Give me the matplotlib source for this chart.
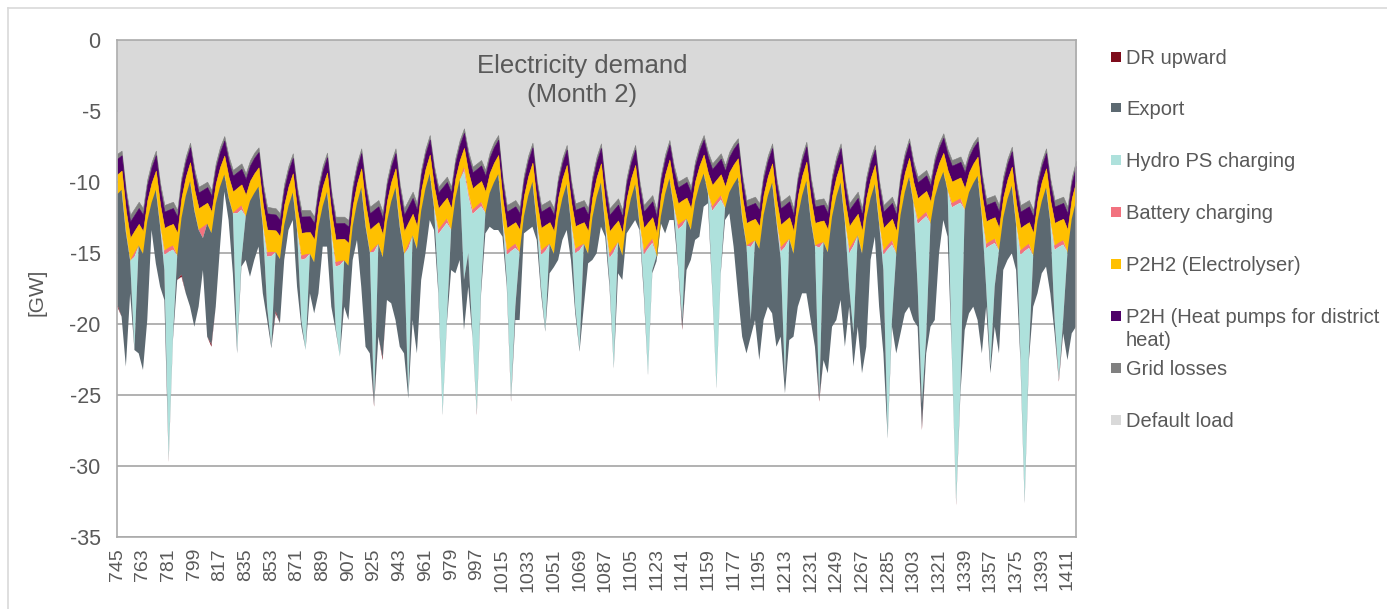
import numpy as np
import matplotlib
matplotlib.use("Agg")
import matplotlib.pyplot as plt
from matplotlib.patches import Rectangle
from matplotlib.lines import Line2D

plt.rcParams['font.family'] = ['Liberation Sans', 'DejaVu Sans']

# Hour index of month 2 (hours 745 ... 1417), one value every 3 hours
hours = np.arange(745, 1418, 3)

# Demand components in GW (drawn as negative, stacked downward)
default_load = [
    8.0, 7.79, 10.51, 12.32, 11.86, 11.39, 11.85, 9.82,
    8.6, 7.79, 10.09, 11.62, 11.5, 11.39, 11.97, 9.6,
    8.18, 7.23, 9.09, 10.33, 10.16, 9.98, 10.56, 8.66,
    7.52, 6.76, 8.19, 9.15, 8.92, 8.69, 9.39, 8.48,
    7.93, 7.56, 10.07, 11.74, 11.8, 11.85, 12.21, 10.1,
    8.83, 7.98, 10.37, 11.97, 11.97, 11.97, 12.44, 10.19,
    8.83, 7.93, 10.64, 12.44, 12.44, 12.44, 12.68, 10.16,
    8.64, 7.63, 10.1, 11.74, 11.5, 11.27, 12.09, 9.86,
    8.52, 7.63, 10.16, 11.85, 11.27, 10.68, 11.5, 9.1,
    7.65, 6.69, 8.87, 10.33, 9.98, 9.62, 10.33, 8.28,
    7.04, 6.22, 7.84, 8.92, 8.69, 8.45, 9.15, 7.92,
    7.18, 6.69, 9.65, 11.62, 11.45, 11.27, 11.74, 9.49,
    8.13, 7.23, 9.86, 11.62, 11.45, 11.27, 11.85, 9.62,
    8.28, 7.39, 9.86, 11.5, 11.39, 11.27, 11.85, 9.57,
    8.19, 7.28, 10.02, 11.85, 11.5, 11.15, 11.97, 9.68,
    8.31, 7.39, 9.93, 11.62, 11.27, 10.92, 11.97, 9.5,
    8.03, 7.04, 8.8, 9.98, 9.8, 9.62, 10.33, 8.51,
    7.42, 6.69, 7.89, 8.69, 8.34, 7.98, 8.8, 7.86,
    7.3, 6.92, 9.53, 11.27, 11.15, 11.03, 11.5, 9.39,
    8.12, 7.28, 9.75, 11.39, 11.16, 10.92, 11.85, 9.5,
    8.1, 7.16, 9.63, 11.27, 11.21, 11.15, 11.74, 9.51,
    8.17, 7.28, 9.81, 11.5, 11.09, 10.68, 11.85, 9.62,
    8.28, 7.39, 9.93, 11.62, 11.33, 11.03, 11.85, 9.39,
    7.91, 6.92, 8.54, 9.62, 9.39, 9.15, 9.86, 8.22,
    7.23, 6.57, 7.7, 8.45, 8.33, 8.2, 8.92, 7.87,
    7.23, 6.81, 9.41, 11.15, 11.04, 10.92, 11.62, 9.57,
    8.33, 7.51, 9.98, 11.62, 11.45, 11.27, 11.97, 9.8,
    8.5, 7.63, 9.81, 11.27, 11.15, 11.03, 11.74, 9.67,
    8.5,
]

grid_losses = [
    0.36, 0.33, 0.40, 0.46, 0.45, 0.44, 0.46, 0.38,
    0.36, 0.33, 0.40, 0.46, 0.45, 0.44, 0.46, 0.38,
    0.35, 0.32, 0.37, 0.40, 0.39, 0.38, 0.40, 0.36,
    0.35, 0.32, 0.37, 0.40, 0.39, 0.38, 0.40, 0.36,
    0.36, 0.33, 0.40, 0.46, 0.45, 0.44, 0.46, 0.38,
    0.36, 0.33, 0.40, 0.46, 0.45, 0.44, 0.46, 0.38,
    0.36, 0.33, 0.40, 0.46, 0.45, 0.44, 0.46, 0.38,
    0.36, 0.33, 0.40, 0.46, 0.45, 0.44, 0.46, 0.38,
    0.36, 0.33, 0.40, 0.46, 0.45, 0.44, 0.46, 0.38,
    0.35, 0.32, 0.37, 0.40, 0.39, 0.38, 0.40, 0.36,
    0.35, 0.32, 0.37, 0.40, 0.39, 0.38, 0.40, 0.36,
    0.36, 0.33, 0.40, 0.46, 0.45, 0.44, 0.46, 0.38,
    0.36, 0.33, 0.40, 0.46, 0.45, 0.44, 0.46, 0.38,
    0.36, 0.33, 0.40, 0.46, 0.45, 0.44, 0.46, 0.38,
    0.36, 0.33, 0.40, 0.46, 0.45, 0.44, 0.46, 0.38,
    0.36, 0.33, 0.40, 0.46, 0.45, 0.44, 0.46, 0.38,
    0.35, 0.32, 0.37, 0.40, 0.39, 0.38, 0.40, 0.36,
    0.35, 0.32, 0.37, 0.40, 0.39, 0.38, 0.40, 0.36,
    0.36, 0.33, 0.40, 0.46, 0.45, 0.44, 0.46, 0.38,
    0.36, 0.33, 0.40, 0.46, 0.45, 0.44, 0.46, 0.38,
    0.36, 0.33, 0.40, 0.46, 0.45, 0.44, 0.46, 0.38,
    0.36, 0.33, 0.40, 0.46, 0.45, 0.44, 0.46, 0.38,
    0.36, 0.33, 0.40, 0.46, 0.45, 0.44, 0.46, 0.38,
    0.35, 0.32, 0.37, 0.40, 0.39, 0.38, 0.40, 0.36,
    0.35, 0.32, 0.37, 0.40, 0.39, 0.38, 0.40, 0.36,
    0.36, 0.33, 0.40, 0.46, 0.45, 0.44, 0.46, 0.38,
    0.36, 0.33, 0.40, 0.46, 0.45, 0.44, 0.46, 0.38,
    0.36, 0.33, 0.40, 0.46, 0.45, 0.44, 0.46, 0.38,
    0.36,
]

p2h = [
    1.10, 1.08, 1.12, 1.15, 1.12, 1.12, 1.15, 1.10,
    1.10, 1.08, 1.12, 1.15, 1.12, 1.12, 1.15, 1.10,
    1.08, 1.06, 1.10, 1.12, 1.10, 1.10, 1.12, 1.08,
    1.08, 1.06, 1.10, 1.12, 1.10, 1.10, 1.12, 1.08,
    1.10, 1.08, 1.12, 1.15, 1.12, 1.12, 1.15, 1.10,
    1.10, 1.08, 1.12, 1.15, 1.12, 1.12, 1.15, 1.10,
    1.10, 1.08, 1.12, 1.15, 1.12, 1.12, 1.15, 1.10,
    1.10, 1.08, 1.12, 1.15, 1.12, 1.12, 1.15, 1.10,
    1.10, 1.08, 1.12, 1.15, 1.12, 1.12, 1.15, 1.10,
    1.08, 1.06, 1.10, 1.12, 1.10, 1.10, 1.12, 1.08,
    1.08, 1.06, 1.10, 1.12, 1.10, 1.10, 1.12, 1.08,
    1.10, 1.08, 1.12, 1.15, 1.12, 1.12, 1.15, 1.10,
    1.10, 1.08, 1.12, 1.15, 1.12, 1.12, 1.15, 1.10,
    1.10, 1.08, 1.12, 1.15, 1.12, 1.12, 1.15, 1.10,
    1.10, 1.08, 1.12, 1.15, 1.12, 1.12, 1.15, 1.10,
    1.10, 1.08, 1.12, 1.15, 1.12, 1.12, 1.15, 1.10,
    1.08, 1.06, 1.10, 1.12, 1.10, 1.10, 1.12, 1.08,
    1.08, 1.06, 1.10, 1.12, 1.10, 1.10, 1.12, 1.08,
    1.10, 1.08, 1.12, 1.15, 1.12, 1.12, 1.15, 1.10,
    1.10, 1.08, 1.12, 1.15, 1.12, 1.12, 1.15, 1.10,
    1.10, 1.08, 1.12, 1.15, 1.12, 1.12, 1.15, 1.10,
    1.10, 1.08, 1.12, 1.15, 1.12, 1.12, 1.15, 1.10,
    1.10, 1.08, 1.12, 1.15, 1.12, 1.12, 1.15, 1.10,
    1.08, 1.06, 1.10, 1.12, 1.10, 1.10, 1.12, 1.08,
    1.08, 1.06, 1.10, 1.12, 1.10, 1.10, 1.12, 1.08,
    1.10, 1.08, 1.12, 1.15, 1.12, 1.12, 1.15, 1.10,
    1.10, 1.08, 1.12, 1.15, 1.12, 1.12, 1.15, 1.10,
    1.10, 1.08, 1.12, 1.15, 1.12, 1.12, 1.15, 1.10,
    1.10,
]

p2h2 = [
    1.40, 1.35, 1.50, 1.60, 1.55, 1.52, 1.60, 1.45,
    1.40, 1.35, 1.50, 1.60, 1.55, 1.52, 1.60, 1.45,
    1.38, 1.34, 1.45, 1.52, 1.50, 1.48, 1.52, 1.42,
    1.38, 1.34, 1.45, 1.52, 1.50, 1.48, 1.52, 1.42,
    1.40, 1.35, 1.50, 1.60, 1.55, 1.52, 1.60, 1.45,
    1.40, 1.35, 1.50, 1.60, 1.55, 1.52, 1.60, 1.45,
    1.40, 1.35, 1.50, 1.60, 1.55, 1.52, 1.60, 1.45,
    1.40, 1.35, 1.50, 1.60, 1.55, 1.52, 1.60, 1.45,
    1.40, 1.35, 1.50, 1.60, 1.55, 1.52, 1.60, 1.45,
    1.38, 1.34, 1.45, 1.52, 1.50, 1.48, 1.52, 1.42,
    1.38, 1.34, 1.45, 1.52, 1.50, 1.48, 1.52, 1.42,
    1.40, 1.35, 1.50, 1.60, 1.55, 1.52, 1.60, 1.45,
    1.40, 1.35, 1.50, 1.60, 1.55, 1.52, 1.60, 1.45,
    1.40, 1.35, 1.50, 1.60, 1.55, 1.52, 1.60, 1.45,
    1.40, 1.35, 1.50, 1.60, 1.55, 1.52, 1.60, 1.45,
    1.40, 1.35, 1.50, 1.60, 1.55, 1.52, 1.60, 1.45,
    1.38, 1.34, 1.45, 1.52, 1.50, 1.48, 1.52, 1.42,
    1.38, 1.34, 1.45, 1.52, 1.50, 1.48, 1.52, 1.42,
    1.40, 1.35, 1.50, 1.60, 1.55, 1.52, 1.60, 1.45,
    1.40, 1.35, 1.50, 1.60, 1.55, 1.52, 1.60, 1.45,
    1.40, 1.35, 1.50, 1.60, 1.55, 1.52, 1.60, 1.45,
    1.40, 1.35, 1.50, 1.60, 1.55, 1.52, 1.60, 1.45,
    1.40, 1.35, 1.50, 1.60, 1.55, 1.52, 1.60, 1.45,
    1.38, 1.34, 1.45, 1.52, 1.50, 1.48, 1.52, 1.42,
    1.38, 1.34, 1.45, 1.52, 1.50, 1.48, 1.52, 1.42,
    1.40, 1.35, 1.50, 1.60, 1.55, 1.52, 1.60, 1.45,
    1.40, 1.35, 1.50, 1.60, 1.55, 1.52, 1.60, 1.45,
    1.40, 1.35, 1.50, 1.60, 1.55, 1.52, 1.60, 1.45,
    1.40,
]

battery_charging = [
    0, 0, 0, 0, 0.3, 0, 0, 0,
    0, 0, 0, 0.3, 0.3, 0.3, 0, 0,
    0, 0, 0, 0, 0.8, 0, 0, 0,
    0, 0, 0, 0, 0.3, 0.3, 0, 0,
    0, 0, 0, 0.3, 0.3, 0, 0, 0,
    0, 0, 0, 0.3, 0.3, 0, 0, 0,
    0, 0, 0, 0.3, 0.3, 0, 0, 0,
    0, 0, 0, 0, 0.3, 0, 0, 0,
    0, 0, 0, 0, 0.3, 0, 0, 0,
    0, 0, 0, 0.3, 0.3, 0.3, 0, 0,
    0, 0.3, 0.2, 0.3, 0.3, 0.3, 0, 0,
    0, 0, 0, 0.3, 0.3, 0.3, 0, 0,
    0, 0, 0, 0.3, 0.3, 0, 0, 0,
    0, 0, 0, 0.3, 0.3, 0, 0, 0,
    0, 0, 0, 0.3, 0.3, 0, 0, 0,
    0, 0, 0, 0.3, 0.3, 0.3, 0, 0,
    0, 0, 0, 0.3, 0.3, 0, 0, 0,
    0, 0, 0, 0.3, 0.3, 0.3, 0, 0,
    0, 0, 0, 0, 0.3, 0, 0, 0,
    0, 0, 0, 0.3, 0.3, 0, 0, 0,
    0, 0, 0, 0, 0.3, 0, 0, 0,
    0, 0, 0, 0.3, 0.3, 0, 0, 0,
    0, 0, 0, 0.3, 0.3, 0.3, 0, 0,
    0, 0, 0, 0.3, 0.3, 0.3, 0, 0,
    0, 0, 0, 0.3, 0.3, 0.3, 0, 0,
    0, 0, 0, 0.3, 0.3, 0.3, 0, 0,
    0, 0, 0, 0.3, 0.3, 0.3, 0, 0,
    0, 0, 0, 0.3, 0.3, 0.3, 0, 0,
    0,
]

hydro_ps_charging = [
    0, 0, 0, 0, 6.55, 0, 0, 0,
    0, 0, 0, 1.07, 14.66, 6.12, 0, 0,
    0, 0, 0, 0, 0, 0, 0, 0,
    0, 0, 0, 0, 9.62, 3.54, 0, 0,
    0, 0, 0, 3.53, 6.38, 0, 0, 0,
    0, 0, 0, 4.24, 6.44, 0, 0, 0,
    0, 0, 0, 4.24, 6.44, 0, 0, 0,
    0, 0, 0, 0, 10.78, 0, 0, 0,
    0, 0, 0, 0, 10.43, 0, 0, 0,
    0, 0, 0, 3.7, 13.02, 6.84, 0, 0,
    0, 7.66, 4.06, 8.63, 14.31, 5.66, 0, 0,
    0, 0, 0, 1.77, 10.48, 4.13, 0, 0,
    0, 0, 0, 2.24, 5.55, 0, 0, 0,
    0, 0, 0, 3.77, 7.02, 0, 0, 0,
    0, 0, 0, 1.54, 8.08, 0, 0, 0,
    0, 0, 0, 2.24, 8.78, 1.9, 0, 0,
    0, 0, 0, 2.41, 6.63, 0, 0, 0,
    0, 0, 0, 5.34, 12.78, 4.96, 0, 0,
    0, 0, 0, 0, 5.15, 0, 0, 0,
    0, 0, 0, 0.5, 9.36, 0, 0, 0,
    0, 0, 0, 0, 10.72, 0, 0, 0,
    0, 0, 0, 2.36, 6.15, 0, 0, 0,
    0, 0, 0, 1.07, 13.19, 5.31, 0, 0,
    0, 0, 0, 4.41, 12.91, 8.48, 0, 0,
    0, 0, 0, 10.28, 21.01, 12.95, 0, 0,
    0, 0, 0, 2.71, 8.54, 3.07, 0, 0,
    0, 0, 0, 6.94, 17.53, 7.42, 0, 0,
    0, 0, 0, 4.94, 9.37, 5.31, 0, 0,
    0,
]

export = [
    7.77, 8.93, 9.47, 2.31, 0, 7.6, 8.18, 6.97,
    1.92, 5.18, 4.26, 2.11, 0, 0.24, 1.72, 3.99,
    6.85, 8.83, 8.18, 5.41, 2.25, 7.95, 7.85, 7.26,
    4.22, 1.2, 1.57, 4.24, 0.24, 0.47, 3.06, 5.33,
    4.7, 4.23, 4.75, 0.94, 0.11, 4.17, 4.53, 2.46,
    1.69, 1.94, 3.98, 0.47, 0, 2.79, 3.6, 4.72,
    2.86, 3.86, 5.12, 0.23, 0, 3.26, 3.83, 2.4,
    2.58, 6.98, 8.48, 7.12, 0, 6.54, 7.09, 5.52,
    7.16, 9.33, 8.42, 7.01, 0.12, 5.96, 7.36, 4.87,
    4.56, 3.27, 1.59, 0.47, 0.12, 0.23, 2.83, 5.29,
    5.64, 3.52, 2.35, 0.12, 0, 0.47, 1.43, 2.37,
    3.34, 3.93, 1.18, 0.47, 0, 0.94, 4.77, 1.2,
    2.39, 3.16, 1.2, 0.47, 0.12, 2.08, 0.94, 2.94,
    2.94, 3.23, 2.61, 0.47, 0.12, 4.43, 0.67, 2.99,
    3.97, 3.11, 0.81, 0.47, 0.12, 2.2, 1.72, 1.01,
    1.98, 2.53, 0.43, 0.47, 0.12, 0.23, 0.4, 0.48,
    2.78, 2.92, 0.96, 0.23, 0.55, 3.62, 2.12, 2.71,
    3.62, 2.33, 0.69, 0.24, 0.12, 0.23, 0.84, 1.49,
    4.39, 8.16, 8.34, 7.59, 1.17, 5.61, 7.83, 7.4,
    7.8, 9.21, 8.83, 5.49, 0.94, 7.13, 5.83, 6.35,
    6.88, 7.92, 7.07, 7.12, 0, 8.31, 8.52, 7.75,
    8.69, 8.27, 8.77, 1.41, 2.34, 6.43, 8.41, 9.05,
    4.35, 3.7, 5.83, 5.87, 0.12, 0.47, 7.01, 8.34,
    8.53, 9.14, 8.26, 2.82, 1.68, 1.18, 7.29, 8.64,
    4.98, 3.39, 3.23, 0.23, 0, 0.47, 8.46, 8.52,
    8.69, 10.15, 9.64, 1.41, 0.47, 2.82, 7.24, 3.7,
    4.3, 4.75, 3.2, 0.47, 0.23, 0.47, 3.6, 5.11,
    5.07, 5.57, 5.01, 0.94, 0, 0.94, 7.59, 8.06,
    8.83,
]

dr_upward = [
    0.15, 0, 0, 0, 0, 0, 0, 0,
    0, 0, 0, 0, 0.12, 0, 0, 0.15,
    0, 0, 0, 0, 0, 0, 0.15, 0,
    0, 0, 0, 0, 0, 0, 0, 0,
    0, 0, 0, 0, 0, 0.15, 0, 0,
    0, 0, 0, 0, 0, 0, 0, 0,
    0, 0, 0, 0, 0, 0, 0, 0,
    0, 0, 0, 0, 0.12, 0, 0.15, 0,
    0, 0, 0, 0, 0, 0, 0, 0,
    0, 0, 0, 0, 0, 0, 0, 0,
    0, 0, 0, 0, 0.12, 0, 0, 0,
    0, 0, 0, 0, 0.12, 0, 0, 0,
    0, 0, 0, 0, 0, 0, 0, 0,
    0, 0, 0, 0, 0, 0, 0, 0,
    0, 0, 0, 0, 0, 0, 0, 0,
    0, 0, 0, 0, 0, 0, 0, 0,
    0, 0, 0, 0, 0.15, 0, 0, 0,
    0, 0, 0, 0, 0, 0, 0, 0,
    0, 0, 0, 0, 0, 0, 0, 0,
    0, 0, 0, 0, 0, 0, 0, 0,
    0, 0, 0, 0, 0.12, 0, 0, 0,
    0, 0, 0, 0, 0, 0, 0, 0,
    0, 0, 0, 0, 0, 0, 0, 0,
    0, 0, 0, 0, 0.2, 0, 0, 0,
    0, 0, 0, 0, 0.12, 0, 0, 0,
    0, 0, 0, 0, 0, 0, 0, 0,
    0, 0, 0, 0, 0, 0, 0, 0,
    0, 0, 0, 0, 0.12, 0, 0, 0,
    0,
]

# Stack order from 0 downward, with legend labels and colours
layers = [default_load, grid_losses, p2h, p2h2, battery_charging,
          hydro_ps_charging, export, dr_upward]
labels = ["Default load", "Grid losses", "P2H (Heat pumps for district\nheat)",
          "P2H2 (Electrolyser)", "Battery charging", "Hydro PS charging",
          "Export", "DR upward"]
colors = ["#D9D9D9", "#808080", "#4F0068", "#FFC000", "#F2727F",
          "#AEE1DC", "#5C6971", "#7E0C1C"]
# only layers that never drop to zero get an outline (hides seams)
outline = [True, True, True, True, False, False, False, False]

y_ticks = [0, -5, -10, -15, -20, -25, -30, -35]
x_ticks = list(range(745, 1412, 18))

W, H = 1387, 609
fig = plt.figure(figsize=(W / 100, H / 100), dpi=100)
fig.patch.set_facecolor("white")

ax = fig.add_axes([117.3 / W, 1 - 537 / H, (1076 - 117.3) / W, (537 - 40) / H])
polys = ax.stackplot(hours, *[-np.asarray(v, dtype=float) for v in layers],
                     colors=colors, zorder=2)
for p, c, o in zip(polys, colors, outline):
    if o:
        p.set_edgecolor(c)
        p.set_linewidth(0.4)
    else:
        p.set_linewidth(0)

ax.set_xlim(745, 1417)
ax.set_ylim(-35, 0)
ax.set_yticks(y_ticks)
ax.set_yticklabels([str(v) for v in y_ticks])
ax.set_xticks(x_ticks)
ax.set_xticklabels([str(v) for v in x_ticks], rotation=90)
ax.yaxis.grid(True, color="#ABABAB", linewidth=1.3)
ax.set_axisbelow(True)
ax.tick_params(axis="y", length=0, pad=12, labelsize=15.5, labelcolor="#595959")
ax.tick_params(axis="x", length=0, pad=8, labelsize=14, labelcolor="#595959")
for s in ax.spines.values():
    s.set_color("#ABABAB")
    s.set_linewidth(1.2)

fig.text(37 / W, 1 - 292 / H, "[GW]", rotation=90, ha="center", va="center",
         fontsize=15, color="#595959")

ax.text(0.485, 0.918, "Electricity demand\n(Month 2)", transform=ax.transAxes,
        ha="center", va="center", multialignment="center", linespacing=1.25,
        fontsize=18.5, color="#595959", zorder=5)

# Legend on the right, top entry is the bottom layer
legend_rows = [57, 108, 160, 212, 264, 316, 368, 420]
line_step = 23
for y_px, lab, col in zip(legend_rows, labels[::-1], colors[::-1]):
    fig.add_artist(Rectangle((1111 / W, 1 - (y_px + 4.5) / H), 9.5 / W, 9.5 / H,
                             transform=fig.transFigure, facecolor=col,
                             edgecolor="none"))
    # baseline of the last text line; extra lines flow downward
    base = y_px + 7 + line_step * lab.count("\n")
    fig.text(1126 / W, 1 - base / H, lab, ha="left", va="baseline",
             fontsize=14.5, color="#595959", linespacing=1.24,
             transform=fig.transFigure)

# Chart frame
fig.add_artist(Line2D([8 / W, 1.0], [1 - 8 / H, 1 - 8 / H], color="#D9D9D9",
                      lw=1.2, transform=fig.transFigure))
fig.add_artist(Line2D([8 / W, 8 / W], [1 - 8 / H, 0.0], color="#D9D9D9",
                      lw=1.2, transform=fig.transFigure))

fig.savefig("out.png", dpi=100, facecolor="white")
